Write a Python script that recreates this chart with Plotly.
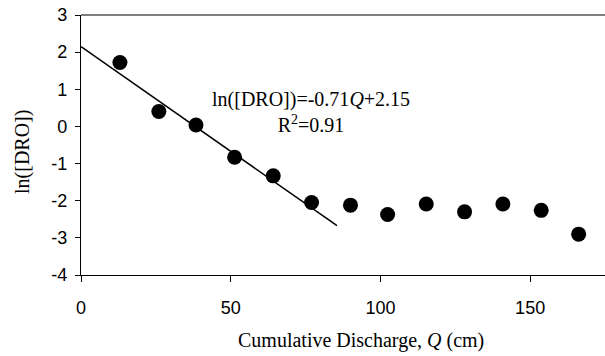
import plotly.graph_objects as go

# Data
discharge_cm = [13.0, 26.0, 38.4, 51.3, 64.2, 77.0, 90.0, 102.4, 115.3, 128.1, 140.9, 153.7, 166.2]
ln_dro = [1.72, 0.40, 0.04, -0.83, -1.33, -2.05, -2.12, -2.37, -2.09, -2.30, -2.09, -2.26, -2.90]

# Fitted regression line (plotted in axis units)
fit_x = [0.0, 85.5]
fit_intercept = 2.15
fit_slope = -0.0564
fit_y = [fit_intercept + fit_slope * x for x in fit_x]

x_ticks = [0, 50, 100, 150]
x_tick_labels = ["0", "50", "100", "150"]
y_ticks = [-4, -3, -2, -1, 0, 1, 2, 3]
y_tick_labels = ["-4", "-3", "-2", "-1", "0", "1", "2", "3"]

fig = go.Figure()
fig.add_trace(go.Scatter(x=fit_x, y=fit_y, mode="lines",
                         line=dict(color="black", width=1.6), showlegend=False))
fig.add_trace(go.Scatter(x=discharge_cm, y=ln_dro, mode="markers",
                         marker=dict(color="black", size=15), showlegend=False))

L, R, T, B = 81, 0, 15, 81
PW, PH = 605 - L - R, 356 - T - B

fig.update_layout(
    width=605, height=356,
    margin=dict(l=L, r=R, t=T, b=B),
    plot_bgcolor="white", paper_bgcolor="white",
    font=dict(family="Liberation Sans, Arial", size=17, color="black"),
    xaxis=dict(range=[0, 175], tickvals=x_ticks, ticktext=x_tick_labels,
               showgrid=False, zeroline=False,
               showline=True, linecolor="black", linewidth=1.2,
               ticks="outside", ticklen=6, tickcolor="black", tickwidth=1,
               ticklabelstandoff=10,
               tickfont=dict(family="Liberation Sans, Arial", size=18)),
    yaxis=dict(range=[-4, 3], tickvals=y_ticks, ticktext=y_tick_labels,
               showgrid=False, zeroline=False,
               showline=True, linecolor="black", linewidth=1.2,
               ticks="outside", ticklen=5, tickcolor="black", tickwidth=1,
               ticklabelstandoff=4,
               tickfont=dict(family="Liberation Sans, Arial", size=18)),
    shapes=[dict(type="line", xref="paper", yref="paper", x0=0, x1=1, y0=1, y1=1,
                 line=dict(color="black", width=1.2))],
    annotations=[
        dict(text="ln([DRO])=-0.71<i>Q</i>+2.15<br>R<sup>2</sup>=0.91",
             xref="paper", yref="paper",
             x=(311 - L) / PW, y=(356 - B - 112) / PH,
             xanchor="center", yanchor="middle", showarrow=False,
             font=dict(family="Liberation Serif, Times New Roman", size=20)),
        dict(text="Cumulative Discharge, <i>Q</i> (cm)", xref="paper", yref="paper",
             x=(361 - L) / PW, y=-(340 - (356 - B)) / PH, showarrow=False,
             xanchor="center", yanchor="middle",
             font=dict(family="Liberation Serif, Times New Roman", size=20)),
        dict(text="ln([DRO])", xref="paper", yref="paper",
             x=-(L - 22) / PW, y=((356 - B) - 152) / PH, showarrow=False, textangle=-90,
             xanchor="center", yanchor="middle",
             font=dict(family="Liberation Serif, Times New Roman", size=20)),
    ],
)

fig.write_html("out.html", config={"displayModeBar": False},
               post_script="document.body.style.margin='0';document.body.style.overflow='hidden';")
